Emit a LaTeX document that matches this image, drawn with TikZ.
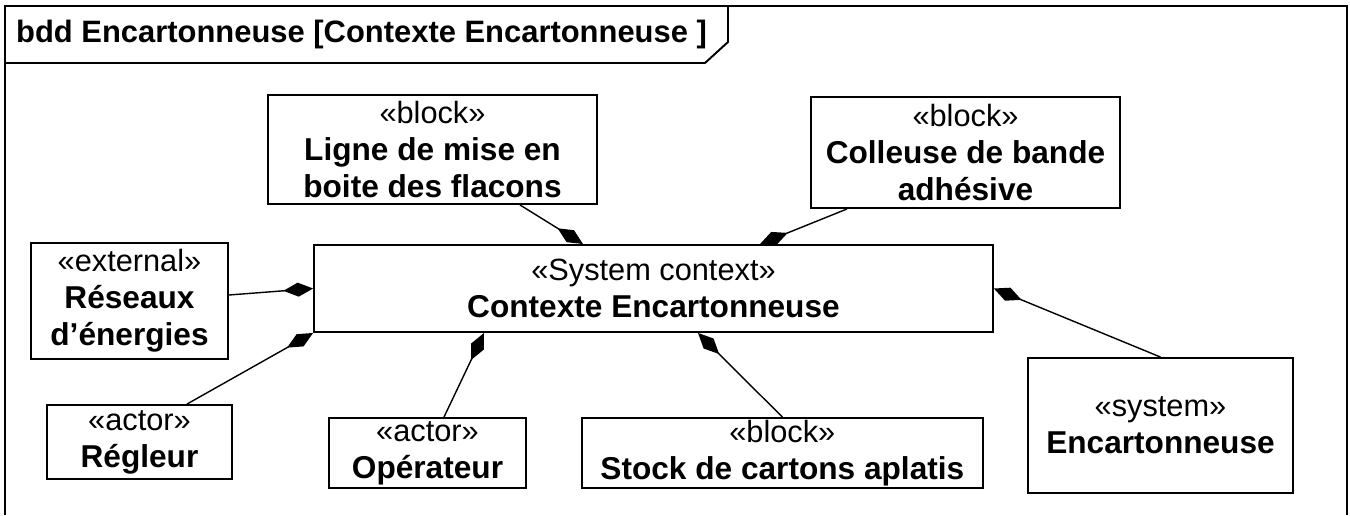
\documentclass[tikz,border=0pt]{standalone}
\usepackage{fontspec}
\setmainfont{Liberation Sans}
\usetikzlibrary{positioning,arrows.meta,calc}
\newcommand{\nm}[1]{{\fontsize{18}{21}\selectfont\bfseries #1}}

\begin{document}
\begin{tikzpicture}[x=0.02cm,y=-0.02cm,>=latex]
  \tikzstyle{blk}=[draw,line width=1.1pt,align=center,inner sep=0pt,font=\fontsize{17.5}{21}\selectfont]
  \tikzstyle{compo}=[line width=0.8pt,-{Diamond[length=17pt,width=8pt]}]
  \useasboundingbox (0,0) rectangle (1350,515);
  % frame of the bdd
  \draw[line width=1.1pt] (5,515) -- (5,6) -- (1347,6) -- (1347,515);
  \draw[line width=1.1pt] (5,63) -- (705,63) -- (728,42) -- (728,6);
  \node[anchor=west,font=\bfseries\fontsize{17.6}{21}\selectfont] (title) at (10,34) {bdd Encartonneuse [Contexte Encartonneuse ]};
  % blocks
  \node[blk,minimum width=13.58cm,minimum height=1.74cm] (ctx) at (653.5,288.5) {«System context»\\\nm{Contexte Encartonneuse}};
  \node[blk,minimum width=6.58cm,minimum height=2.18cm] (ligne) at (432.5,149.5) {«block»\\\nm{Ligne de mise en}\\\nm{boite des flacons}};
  \node[blk,minimum width=6.18cm,minimum height=2.22cm] (colleuse) at (965.5,152.5) {«block»\\\nm{Colleuse de bande}\\\nm{adhésive}};
  \node[blk,minimum width=3.94cm,minimum height=2.32cm] (reseaux) at (129.5,301) {«external»\\\nm{Réseaux}\\\nm{d’énergies}};
  \node[blk,minimum width=3.7cm,minimum height=1.48cm] (regleur) at (139.5,442) {«actor»\\\nm{Régleur}};
  \node[blk,minimum width=3.94cm,minimum height=1.4cm] (operateur) at (427.5,453) {«actor»\\\nm{Opérateur}};
  \node[blk,minimum width=8.02cm,minimum height=1.4cm,right=1.08cm of operateur] (stock) {«block»\\\nm{Stock de cartons aplatis}};
  \node[blk,minimum width=5.3cm,minimum height=2.7cm] (system) at (1160.5,425.5) {«system»\\\nm{Encartonneuse}};
  % compositions
  \draw[compo] ($(ligne.south)+(87.5,0)$) -- ($(ctx.north)+(-70.5,0)$);
  \draw[compo] ($(colleuse.south)+(-118.5,0)$) -- ($(ctx.north)+(106.5,0)$);
  \draw[compo] ($(reseaux.east)+(0,-6)$) -- (ctx.west);
  \draw[compo] ($(regleur.north)+(47.5,0)$) -- (ctx.south west);
  \draw[compo] ($(operateur.north)+(16.5,0)$) -- ($(ctx.south)+(-169.5,0)$);
  \draw[compo] (stock.north) -- ($(ctx.south)+(44.5,0)$);
  \draw[compo] (system.north) -- (ctx.east);
\end{tikzpicture}
\end{document}
